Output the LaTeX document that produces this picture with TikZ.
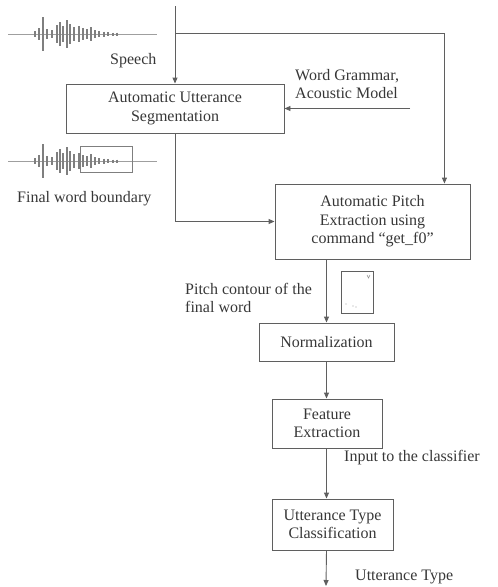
\documentclass[tikz,border=0pt]{standalone}
\usepackage{fontspec}
\setmainfont{Liberation Serif}
\usetikzlibrary{arrows.meta,positioning,calc}
\definecolor{ln}{RGB}{95,95,95}
\definecolor{tx}{RGB}{55,55,55}
\tikzset{
  blk/.style={draw=ln, line width=0.9pt, align=center, inner sep=2pt,
              text=tx, font=\fontsize{16}{18.5}\selectfont},
  lbl/.style={align=left, inner sep=0pt, text=tx,
              font=\fontsize{16}{18.5}\selectfont},
  sig/.style={-{Triangle[length=6pt,width=5pt]}, draw=ln, line width=0.9pt},
  wave/.style={draw=ln!80, line width=1.6pt},
}

\begin{document}
\begin{tikzpicture}[x=1pt,y=-1pt]
    \useasboundingbox (0,0) rectangle (498,587);
    % blocks
    \node[blk,minimum width=218,minimum height=49] (seg) at (175,108.5) {Automatic Utterance\\Segmentation};
    \node[blk,minimum width=195,minimum height=75] (pitch) at (372.5,221.5) {Automatic Pitch\\Extraction using\\command ``get\_f0''};
    \node[blk,minimum width=135,minimum height=38] (norm) at (326.5,342) {Normalization};
    \node[blk,minimum width=110,minimum height=49] (feat) at (327,423.5) {Feature\\Extraction};
    \node[blk,minimum width=121,minimum height=51] (cls) at (332.5,524.5) {Utterance Type\\Classification};
    % labels
    \node[lbl,anchor=west] (sp) at (110,61) {Speech};
    \node[lbl,anchor=west] (wg) at (295,84) {Word Grammar,\\Acoustic Model};
    \node[lbl,anchor=west] (fwb) at (17,199) {Final word boundary};
    \node[lbl,anchor=west] (pc) at (185,298) {Pitch contour of the\\final word};
    \node[lbl,anchor=west] (inp) at (344,458) {Input to the classifier};
    \node[lbl,anchor=west] (ut) at (355,577) {Utterance Type};
    % connectors
    \coordinate (in) at (175,6);
    \coordinate (br) at (175,33);
    \coordinate (am) at (410,108.5);
    \coordinate (out) at (326,586);
    \draw[sig] (in) -- (seg.north);
    \draw[sig] (br) -| ([xshift=-26]pitch.north east);
    \draw[sig] (am) -- (seg.east);
    \draw[sig] (seg.south) |- (pitch.west);
    \draw[sig] (norm.north |- pitch.south) -- (norm.north);
    \draw[sig] (norm.south) -- (norm.south |- feat.north);
    \draw[sig] (norm.south |- feat.south) -- (norm.south |- cls.north);
    \draw[sig] (norm.south |- cls.south) -- (out);
    % waveforms
    \foreach \wy in {34,161} {
      \draw[ln!60, line width=0.6pt] (8,\wy) -- (157,\wy);
      \foreach \wx/\wh in {35/3,39/6,43/17,47/5,52/4,57/9,60/12,63/8,67/14,70/10,74/7,
                           79/8,83/6,87/5,91/7,95/4,99/3,104/2.5,108/2,113/1.5,117/1.5}
        \draw[wave] (\wx,\wy-\wh) -- (\wx,\wy+\wh);
    }
    \node[draw=ln!80, line width=0.7pt, minimum width=52, minimum height=26, inner sep=0pt] (fw) at (106,159) {};
    % pitch contour sketch
    \node[draw=ln, line width=0.7pt, minimum width=32, minimum height=42, inner sep=0pt] (pcb) at (357.5,292) {};
    \draw[ln!70, line width=0.5pt] (367,275) -- (368.5,278) -- (370,275);
    \fill[ln!60] (346,304) circle (0.7) (353,306) circle (0.7) (356,307) circle (0.7);
\end{tikzpicture}
\end{document}
